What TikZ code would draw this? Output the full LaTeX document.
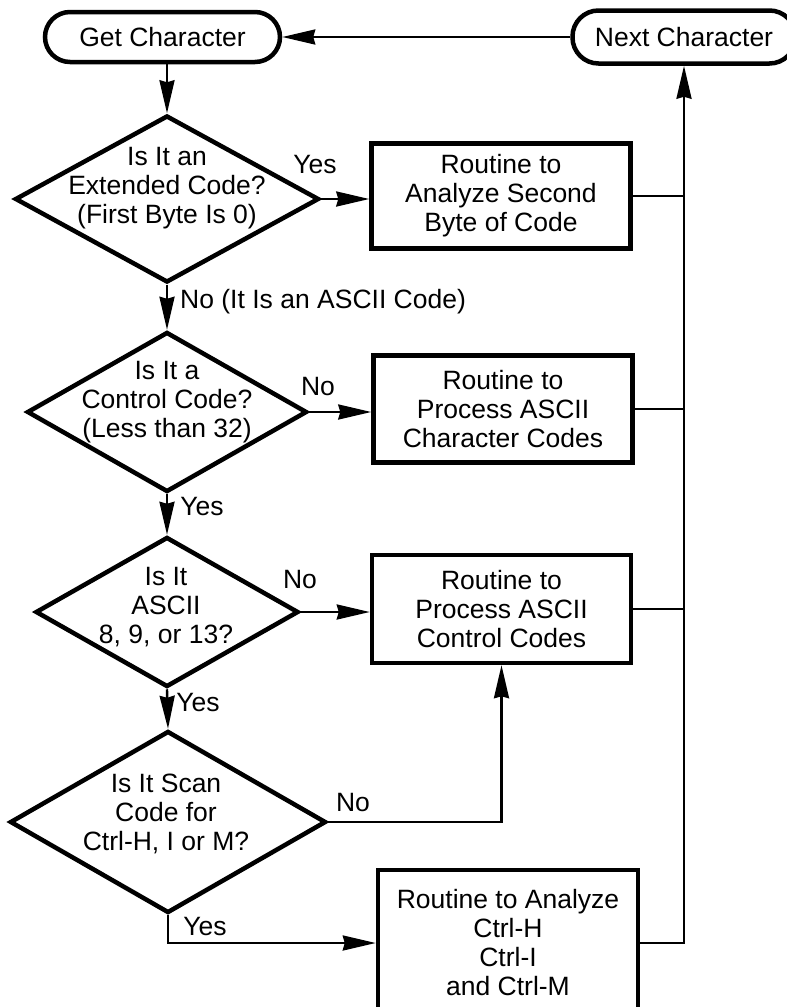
\documentclass[tikz,border=0pt]{standalone}
\usepackage{fontspec}
\setmainfont{Liberation Sans}
\usetikzlibrary{arrows.meta,shapes.geometric}
\begin{document}
\begin{tikzpicture}[x=1pt,y=-1pt,
  every node/.style={font=\fontsize{26.5}{29}\selectfont},
  termbox/.style={draw,line width=4.5pt,rounded corners=25pt,minimum height=50pt,inner sep=0pt},
  procbox/.style={draw,line width=4.5pt,minimum width=259pt,align=center,inner sep=0pt},
  decision/.style={draw,shape=diamond,line width=4.5pt,inner sep=0pt},
  qtext/.style={align=center,inner sep=0pt},
  lbl/.style={inner sep=0pt},
  flow/.style={line width=2.4pt,-{Stealth[length=33pt,width=15pt,inset=2pt]}},
  plain/.style={line width=2.4pt}]
\useasboundingbox (0,0) rectangle (787,1007);

% terminals
\node[termbox,minimum width=235pt] (get) at (162.5,37) {Get Character};
\node[termbox,minimum width=223pt,minimum height=53pt,rounded corners=26pt] (next) at (684,37) {Next Character};

% decisions
\node[decision,minimum width=304pt,minimum height=167pt] (d1) at (167,199) {};
\node[qtext] (t1) at (167,188) {Is It an\\Extended Code?\\(First Byte Is 0)};
\node[decision,minimum width=280pt,minimum height=160pt] (d2) at (167,412) {};
\node[qtext] (t2) at (167,402) {Is It a\\Control Code?\\(Less than 32)};
\node[decision,minimum width=263pt,minimum height=150pt] (d3) at (167,612) {};
\node[qtext] (t3) at (166,607) {Is It\\ASCII\\8, 9, or 13?};
\node[decision,minimum width=316pt,minimum height=182pt] (d4) at (168,822) {};
\node[qtext] (t4) at (166,814) {Is It Scan\\Code for\\Ctrl-H, I or M?};

% process boxes
\node[procbox,minimum height=105pt] (b1) at (501,196) {Routine to\\Analyze Second\\Byte of Code};
\node[procbox,minimum height=107pt] (b2) at (503,409) {Routine to\\Process ASCII\\Character Codes};
\node[procbox,minimum height=108pt] (b3) at (501.5,609) {Routine to\\Process ASCII\\Control Codes};
\node[procbox,minimum width=260pt,minimum height=146pt] (b4) at (508,943) {Routine to Analyze\\Ctrl-H\\Ctrl-I\\and Ctrl-M};

% main flow
\draw[flow] (next.west) -- (get.east);
\draw[flow] (get.south -| d1.north) -- (d1.north);
\draw[flow] (d1.east) -- (d1.east -| b1.west);
\draw[flow] (d1.south) -- (d2.north);
\draw[flow] (d2.east) -- (d2.east -| b2.west);
\draw[flow] (d2.south) -- (d3.north);
\draw[flow] (d3.east) -- (d3.east -| b3.west);
\draw[flow] (d3.south) -- (d4.north);
\draw[flow] (d4.east) -| (b3.south);
\draw[flow] (d4.south) |- (b4.west);

% return rail
\draw[plain] (b1.east) -- (b1.east -| next.south);
\draw[plain] (b2.east) -- (b2.east -| next.south);
\draw[plain] (b3.east) -- (b3.east -| next.south);
\draw[flow] (b4.east) -| (next.south);

% labels
\node[lbl] (y1) at (315,165) {Yes};
\node[lbl,anchor=west] (n1) at (180,302) {No (It Is an ASCII Code)};
\node[lbl] (n2) at (318,387) {No};
\node[lbl] (y2) at (202,507) {Yes};
\node[lbl] (n3) at (300,580) {No};
\node[lbl] (y3) at (198,703) {Yes};
\node[lbl] (n4) at (353,803) {No};
\node[lbl] (y4) at (205,927) {Yes};
\end{tikzpicture}
\end{document}
